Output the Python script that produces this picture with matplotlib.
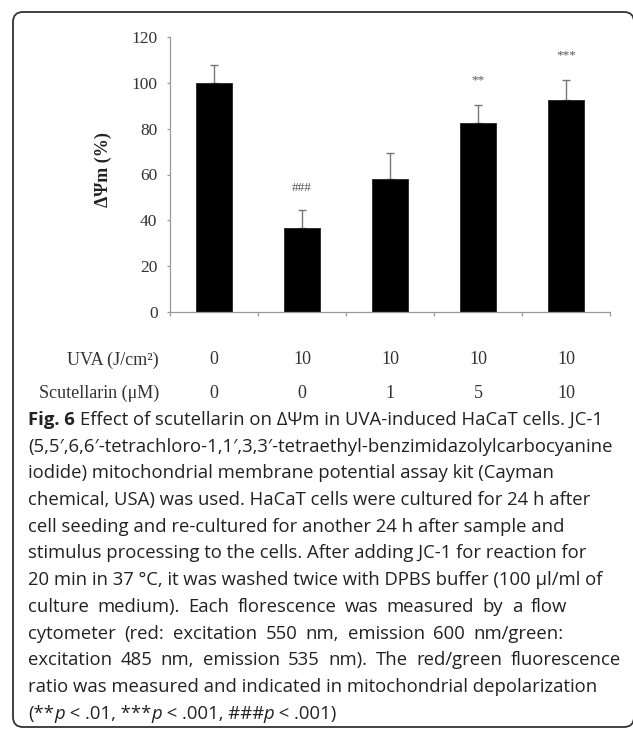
import numpy as np
import matplotlib
matplotlib.use("Agg")
import matplotlib.pyplot as plt
from matplotlib.patches import FancyBboxPatch
from matplotlib.transforms import IdentityTransform

# Daten aus der Abbildung
groups = ["ctrl", "UVA", "UVA+S1", "UVA+S5", "UVA+S10"]
dpsi = [100, 36.5, 58, 82.5, 92.5]          # ΔΨm [%]
dpsi_err = [8, 8.2, 11.6, 7.8, 8.8]
signif = ["", "###", "", "**", "***"]
signif_y = [0, 54, 0, 101, 111.8]
uva_vals = ["0", "10", "10", "10", "10"]
scut_vals = ["0", "0", "1", "5", "10"]
yticks = [0, 20, 40, 60, 80, 100, 120]

caption_lines = [
    "Effect of scutellarin on \u0394\u03a8m in UVA-induced HaCaT cells. JC-1",
    "(5,5\u2032,6,6\u2032-tetrachloro-1,1\u2032,3,3\u2032-tetraethyl-benzimidazolylcarbocyanine",
    "iodide) mitochondrial membrane potential assay kit (Cayman",
    "chemical, USA) was used. HaCaT cells were cultured for 24 h after",
    "cell seeding and re-cultured for another 24 h after sample and",
    "stimulus processing to the cells. After adding JC-1 for reaction for",
    "20 min in 37 \u00b0C, it was washed twice with DPBS buffer (100 \u03bcl/ml of",
    "culture medium). Each florescence was measured by a flow",
    "cytometer (red: excitation 550 nm, emission 600 nm/green:",
    "excitation 485 nm, emission 535 nm). The red/green fluorescence",
    "ratio was measured and indicated in mitochondrial depolarization",
]
# Blocksatz-Zeilen: rechter Rand in Pixel
justify_right = {7: 567, 8: 564, 9: 621}

W, H = 633, 729
fig = plt.figure(figsize=(W / 100, H / 100), dpi=100)
fig.patch.set_facecolor("white")


def fx(x):
    return x / W


def fy(y):
    return 1 - y / H


#%% Diagramm
ax = fig.add_axes([fx(170), fy(312), fx(610) - fx(170), fy(37) - fy(312)])
x = np.arange(len(groups))
ax.bar(x, dpsi, width=0.41, color="black", edgecolor="#222222", linewidth=0.6, zorder=2)
ax.errorbar(x, dpsi, yerr=[np.zeros(len(x)), dpsi_err], fmt="none",
            ecolor="#777777", elinewidth=1.0, capsize=2.6, capthick=1.0, zorder=1)

for xi, s, ys in zip(x, signif, signif_y):
    if s:
        ax.text(xi, ys, s, ha="center", va="center", fontsize=9.5,
                family="Liberation Serif", color="#555555")

ax.set_xlim(-0.5, 4.5)
ax.set_ylim(0, 120)
ax.set_yticks(yticks)
ax.set_xticks(np.arange(-0.5, 5, 1.0))
ax.set_xticklabels([])
for sp in ["top", "right"]:
    ax.spines[sp].set_visible(False)
for sp in ["left", "bottom"]:
    ax.spines[sp].set_color("#999999")
    ax.spines[sp].set_linewidth(0.9)
ax.tick_params(axis="y", direction="out", length=2.5, width=0.9, color="#999999",
               pad=6.5, labelsize=12.5, labelcolor="#333333")
ax.tick_params(axis="x", direction="out", length=3, width=0.9, color="#999999")
for lab in ax.get_yticklabels():
    lab.set_family("Liberation Serif")

fig.text(fx(103), fy(170), "\u0394\u03a8m (%)", rotation=90, ha="center", va="center",
         fontsize=13, fontweight="bold", family="Liberation Serif", color="#222222")

# Tabelle unter der Achse
row_style = dict(fontsize=13, family="Liberation Serif", color="#333333", va="center")
fig.text(fx(159), fy(360), "UVA (J/cm\u00b2)", ha="right", **row_style)
fig.text(fx(159), fy(393), "Scutellarin (\u03bcM)", ha="right", **row_style)
for xi, u, s in zip(x, uva_vals, scut_vals):
    xp = ax.transData.transform((xi, 0))[0]
    fig.text(xp / W, fy(360), u, ha="center", **row_style)
    fig.text(xp / W, fy(393), s, ha="center", **row_style)

#%% Rahmen
frame = FancyBboxPatch((13, 2), 621, 715, boxstyle="round,pad=0,rounding_size=10",
                       transform=IdentityTransform(), fill=False,
                       edgecolor="#333333", linewidth=1.3)
fig.patches.append(frame)

#%% Bildunterschrift
renderer = fig.canvas.get_renderer()
cap_font = "Open Sans"
cap_size = 13.3
cap_color = "#222222"
x0 = 28
base0 = 425
dy = 26.7


def run_text(xp, yp, s, **kw):
    t = fig.text(fx(xp), fy(yp), s, va="baseline", ha="left", fontsize=cap_size,
                 family=cap_font, color=cap_color, **kw)
    bb = t.get_window_extent(renderer)
    return t, bb.width


def space_w():
    t = fig.text(0, 0, "a a", fontsize=cap_size, family=cap_font)
    w2 = t.get_window_extent(renderer).width
    t.set_text("aa")
    w1 = t.get_window_extent(renderer).width
    t.remove()
    return w2 - w1


sp = space_w()

for i, line in enumerate(caption_lines):
    yb = base0 + i * dy
    xs = x0
    if i == 0:
        _, w = run_text(xs, yb, "Fig. 6", fontweight="bold", )
        xs += w + sp
    if i in justify_right:
        words = line.split(" ")
        widths = []
        arts = []
        for wd in words:
            t, w = run_text(xs, yb, wd)
            arts.append(t)
            widths.append(w)
        gap = (justify_right[i] - x0 - sum(widths)) / (len(words) - 1)
        cur = x0
        for t, w in zip(arts, widths):
            t.set_x(fx(cur))
            cur += w + gap
    else:
        run_text(xs, yb, line)

# letzte Zeile mit kursivem p
yb = base0 + len(caption_lines) * dy
runs = [("(**", {}), ("p", {"style": "italic"}), (" < .01, ***", {}),
        ("p", {"style": "italic"}), (" < .001, ###", {}), ("p", {"style": "italic"}),
        (" < .001)", {})]
xs = x0
for s, kw in runs:
    _, w = run_text(xs, yb, s, **kw)
    xs += w

fig.savefig("out.png", dpi=100)
